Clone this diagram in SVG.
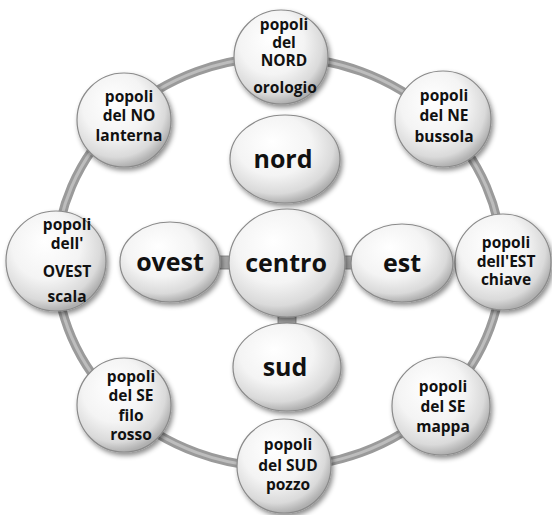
<svg xmlns="http://www.w3.org/2000/svg" width="552" height="515" viewBox="0 0 552 515">
<defs>
<radialGradient id="g" cx="0.42" cy="0.38" r="0.62" fx="0.38" fy="0.3">
<stop offset="0" stop-color="#ffffff"/>
<stop offset="0.55" stop-color="#f4f4f4"/>
<stop offset="0.85" stop-color="#dadada"/>
<stop offset="1" stop-color="#b0b0b0"/>
</radialGradient>
<filter id="sh" x="-20%" y="-20%" width="150%" height="150%">
<feDropShadow dx="2" dy="3" stdDeviation="2.5" flood-color="#000" flood-opacity="0.45"/>
</filter>
</defs>
<style>
.n{fill:url(#g);stroke:#8a8a8a;stroke-width:1.2;filter:url(#sh)}
.t{font-family:"Open Sans","Liberation Sans",sans-serif;font-weight:bold;font-size:15.5px;fill:#111;text-anchor:middle}
.b{font-family:"Open Sans","Liberation Sans",sans-serif;font-weight:bold;font-size:25px;fill:#111;text-anchor:middle}
.ring{fill:none;stroke:#9a9a9a;stroke-width:9}
.bar{fill:#a8a8a8;stroke:#7a7a7a;stroke-width:0.8}
</style>
<rect width="552" height="515" fill="#ffffff"/>
<g id="connectors">
<ellipse class="ring" cx="279" cy="262" rx="223" ry="205"/>
<ellipse cx="279" cy="262" rx="223" ry="205" fill="none" stroke="#bdbdbd" stroke-width="3"/>
<rect class="bar" x="218" y="256" width="12" height="13"/>
<rect class="bar" x="343" y="256" width="12" height="13"/>
<rect class="bar" x="278" y="314" width="18" height="10"/>
</g>
<g id="nord-out"><circle class="n" cx="281" cy="57" r="47"/>
<text class="t" x="284" y="30">popoli</text><text class="t" x="284" y="48">del</text><text class="t" x="284" y="66">NORD</text><text class="t" x="285" y="93">orologio</text></g>
<g id="ne"><circle class="n" cx="443" cy="119" r="48"/>
<text class="t" x="444" y="101">popoli</text><text class="t" x="444" y="121">del NE</text><text class="t" x="444" y="142">bussola</text></g>
<g id="est-out"><circle class="n" cx="503" cy="262" r="48"/>
<text class="t" x="506" y="248">popoli</text><text class="t" x="506" y="267">dell'EST</text><text class="t" x="506" y="285">chiave</text></g>
<g id="se-mappa"><circle class="n" cx="441" cy="406" r="49"/>
<text class="t" x="443" y="392">popoli</text><text class="t" x="443" y="412">del SE</text><text class="t" x="443" y="432">mappa</text></g>
<g id="sud-out"><circle class="n" cx="284" cy="466" r="47"/>
<text class="t" x="288" y="450">popoli</text><text class="t" x="288" y="471">del SUD</text><text class="t" x="288" y="490">pozzo</text></g>
<g id="se-filo"><circle class="n" cx="124" cy="405" r="47"/>
<text class="t" x="131" y="382">popoli</text><text class="t" x="131" y="401">del SE</text><text class="t" x="131" y="421">filo</text><text class="t" x="131" y="440">rosso</text></g>
<g id="ovest-out"><circle class="n" cx="56" cy="261" r="50"/>
<text class="t" x="67" y="230">popoli</text><text class="t" x="67" y="249">dell'</text><text class="t" x="67" y="277">OVEST</text><text class="t" x="67" y="302">scala</text></g>
<g id="no"><circle class="n" cx="124" cy="120" r="47"/>
<text class="t" x="129" y="102">popoli</text><text class="t" x="129" y="121">del NO</text><text class="t" x="129" y="141">lanterna</text></g>
<g id="nord"><ellipse class="n" cx="285" cy="159" rx="55" ry="44"/><text class="b" x="283" y="168">nord</text></g>
<g id="ovest"><ellipse class="n" cx="170" cy="262" rx="50" ry="40"/><text class="b" x="170" y="271">ovest</text></g>
<g id="est"><ellipse class="n" cx="402" cy="263" rx="51" ry="39"/><text class="b" x="402" y="272">est</text></g>
<g id="sud"><ellipse class="n" cx="287" cy="367" rx="54" ry="44"/><text class="b" x="285" y="376">sud</text></g>
<g id="centro"><ellipse class="n" cx="287" cy="263" rx="58" ry="54"/><text class="b" x="286" y="272">centro</text></g>
</svg>
